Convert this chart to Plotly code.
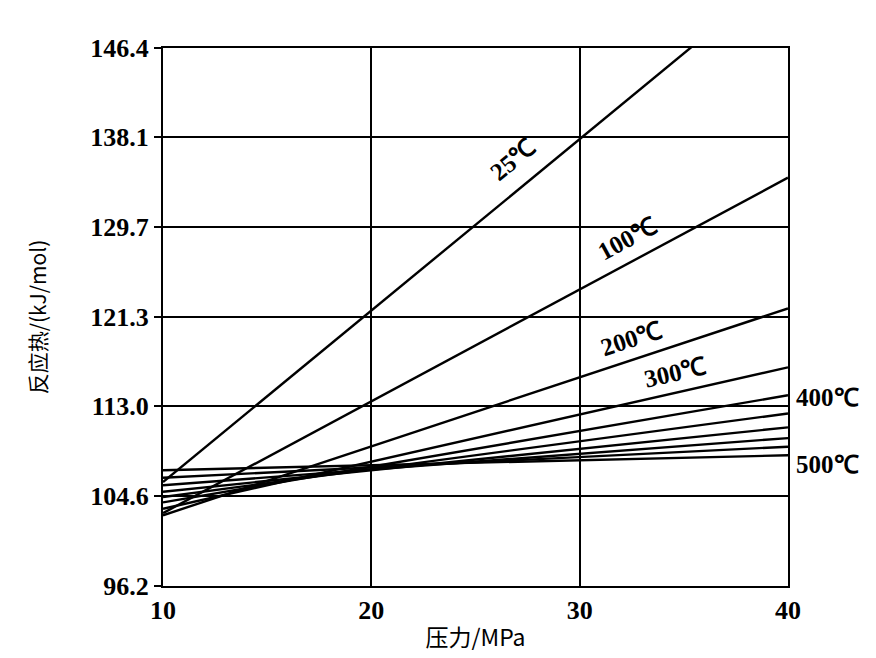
import math
import plotly.graph_objects as go

# Data
pressure = [10, 40]                      # MPa
temps = ["25℃", "100℃", "200℃", "300℃", "400℃", "420℃", "440℃", "460℃", "480℃", "500℃"]
heat_at_10 = [105.9, 103.0, 102.8, 103.4, 104.0, 104.5, 105.0, 105.6, 106.3, 107.0]
heat_at_40 = [153.9, 134.3, 122.1, 116.6, 114.0, 112.3, 111.0, 110.0, 109.2, 108.4]

y_ticks = [96.2, 104.6, 113.0, 121.3, 129.7, 138.1, 146.4]
x_ticks = [10, 20, 30, 40]

# label placement (data coordinates) for rotated labels along lines
inline_labels = {"25℃": (26.8, 136.0), "100℃": (32.3, 128.6),
                 "200℃": (32.5, 119.3), "300℃": (34.6, 116.1)}
side_labels = {"400℃": 113.8, "500℃": 107.5}

W, H = 876, 658
L, R, T, B = 155, 96, 40, 80
xr = [10, 40]
yr = [96.2, 146.4]
px_x = (W - L - R) / (xr[1] - xr[0])
px_y = (H - T - B) / (yr[1] - yr[0])

serif = "Liberation Serif"
cjk = "Noto Sans CJK SC"
num_font = dict(family=serif, size=26, color="black", weight="bold")
label_font = dict(family=serif, size=25, color="black", weight="bold")

fig = go.Figure()
for name, a, b in zip(temps, heat_at_10, heat_at_40):
    fig.add_trace(go.Scatter(x=pressure, y=[a, b], mode="lines", name=name,
                             line=dict(color="black", width=2.4), showlegend=False))

annotations = []
for name, (ax, ay) in inline_labels.items():
    i = temps.index(name)
    slope = (heat_at_40[i] - heat_at_10[i]) / (pressure[1] - pressure[0])
    ang = -math.degrees(math.atan(slope * px_y / px_x))
    annotations.append(dict(x=ax, y=ay, xref="x", yref="y", text=name, showarrow=False,
                            textangle=ang, font=label_font))
for name, ay in side_labels.items():
    annotations.append(dict(x=40, y=ay, xref="x", yref="y", text=name, showarrow=False,
                            xanchor="left", xshift=6, font=label_font))

fig.update_layout(
    width=W, height=H,
    margin=dict(l=L, r=R, t=T, b=B),
    paper_bgcolor="white", plot_bgcolor="white",
    annotations=annotations,
    xaxis=dict(range=xr, tickvals=x_ticks, ticktext=[str(v) for v in x_ticks],
               showgrid=True, gridcolor="black", gridwidth=2,
               showline=True, linecolor="black", linewidth=2, mirror=True,
               zeroline=False, ticks="",
               tickfont=num_font,
               title=dict(text="压力/MPa", font=dict(family=cjk, size=23, color="black"),
                          standoff=6)),
    yaxis=dict(range=yr, tickvals=y_ticks, ticktext=[f"{v:.1f}" for v in y_ticks],
               showgrid=True, gridcolor="black", gridwidth=2,
               showline=True, linecolor="black", linewidth=2, mirror=True,
               zeroline=False, ticks="outside", ticklen=7, tickcolor="black", tickwidth=2,
               tickfont=num_font,
               title=dict(text="反应热/(kJ/mol)", font=dict(family=cjk, size=21, color="black"),
                          standoff=38)),
)

fig.write_html("out.html")
